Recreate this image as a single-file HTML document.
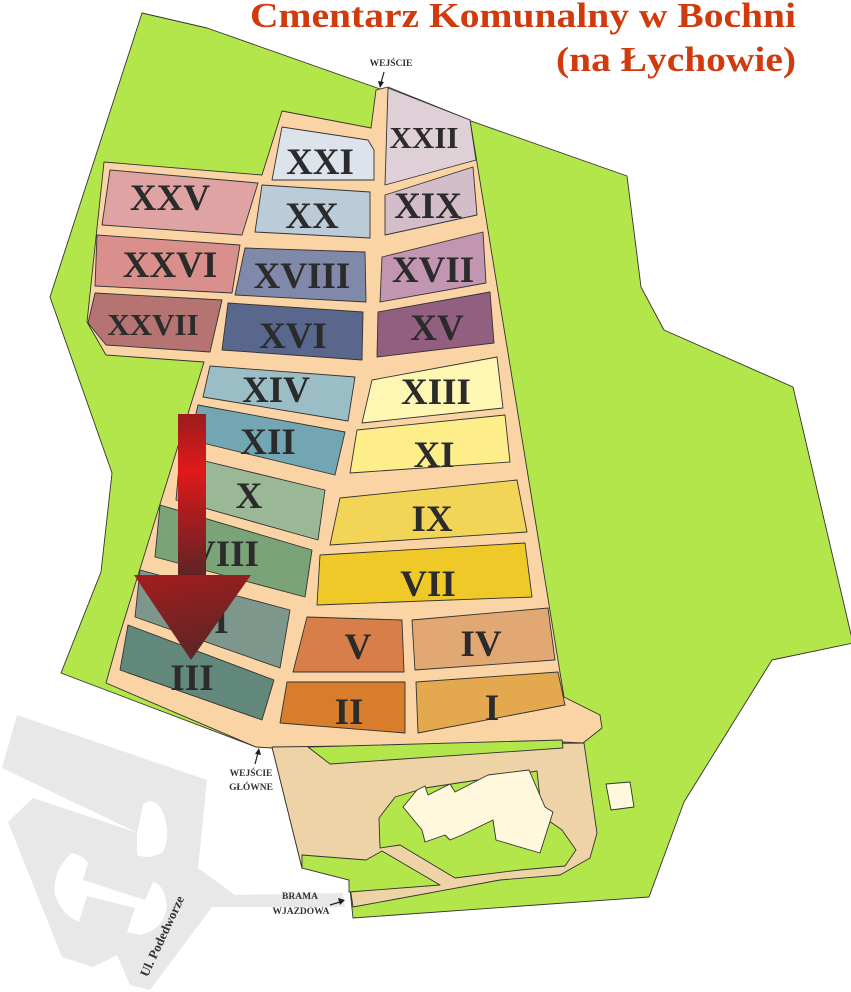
<!DOCTYPE html>
<html><head><meta charset="utf-8"><style>
html,body{margin:0;padding:0;background:#fff;}
svg{display:block;}
.n{font-family:"Liberation Serif",serif;font-weight:bold;fill:#2b2b2b;text-anchor:middle;}
.s{font-family:"Liberation Serif",serif;font-weight:bold;fill:#333;text-anchor:middle;font-size:9.5px;}
.p{stroke:#333;stroke-width:0.9;stroke-linejoin:round;}
</style></head><body>
<svg width="851" height="992" viewBox="0 0 851 992" xmlns="http://www.w3.org/2000/svg">
<defs>
<linearGradient id="ar" x1="0" y1="0" x2="0" y2="1">
<stop offset="0" stop-color="#9a1c1c"/><stop offset="0.35" stop-color="#e0191b"/><stop offset="0.62" stop-color="#a81d1f"/><stop offset="1" stop-color="#5e2424"/>
</linearGradient>
<linearGradient id="ah" x1="0" y1="0" x2="0.3" y2="1">
<stop offset="0" stop-color="#a51c1e"/><stop offset="1" stop-color="#5e2626"/>
</linearGradient>
</defs>
<polygon fill="#e8e8e8" points="17,715 207,780 198,868 235,895 343,893 345,907 212,907 150,990 130,985 117,955 93,967 62,957 8,822 33,798 138,833 2,768"/>
<path fill="#fff" d="M137,833 L143,805 Q152,795 162,810 Q172,833 163,852 Q150,860 137,855 Z"/>
<path fill="#fff" d="M72,853 Q82,855 88,863 L83,880 L145,900 L153,882 Q165,885 167,907 Q163,930 140,935 L127,932 L135,908 L87,896 L79,922 Q62,915 55,895 Q52,870 72,853 Z"/>
<text class="s" transform="translate(166,938) rotate(-65)" style="font-size:13px">Ul. Podedworze</text>
<polygon class="p" fill="#b3e64a" points="142,13 207,28 627,176 641,287 664,330 793,387 853,643 772,660 684,802 649,897 353,918 349,880 302,868 272,747 256,747 61,673 101,572 112,473 50,297"/>
<polygon class="p" fill="#fad4a4" points="104,162 262,175 282,111 371,128 376,90 388,87 470,120 532,500 564,697 600,715 602,728 583,743 562,742 272,748 256,747 106,683 118,640 204,362 106,355 87,322"/>
<polygon class="p" fill="#edd3a6" points="272,747 584,743 597,833 590,858 560,875 500,880 353,907 349,880 302,868"/>
<polygon class="p" fill="#b3e64a" points="308,747 562,740 563,748 330,764"/>
<polygon class="p" fill="#b3e64a" points="379,818 395,797 425,788 537,771 542,816 562,830 576,850 565,866 520,870 455,878 400,845 380,848"/>
<polygon class="p" fill="#b3e64a" points="302,855 366,860 382,851 440,885 349,892 349,880 302,868"/>
<polygon class="p" fill="#fff8dc" points="417,790 425,786 428,795 450,784 455,792 488,775 529,770 545,807 553,812 540,853 496,840 493,820 462,835 450,840 445,835 425,842 422,830 403,807"/>
<polygon class="p" fill="#fff8dc" points="606,784 630,782 634,807 611,810"/>
<polygon class="p" fill="#dfd0d8" points="388,88 470,120 476,160 385,185"/>
<polygon class="p" fill="#dce3ea" points="282,127 368,140 374,150 374,180 272,180"/>
<polygon class="p" fill="#d2bdc9" points="385,195 473,167 477,215 385,235"/>
<polygon class="p" fill="#bccbd8" points="262,185 370,192 370,238 255,232"/>
<polygon class="p" fill="#e0a3a3" points="110,170 258,183 242,235 102,225"/>
<polygon class="p" fill="#d98f8c" points="97,235 240,245 232,293 95,286"/>
<polygon class="p" fill="#8189aa" points="245,248 365,252 366,302 235,295"/>
<polygon class="p" fill="#c296b0" points="382,257 483,232 486,283 380,302"/>
<polygon class="p" fill="#b57472" points="95,293 222,300 210,352 106,345 88,323"/>
<polygon class="p" fill="#5a678c" points="228,303 363,312 362,360 222,350"/>
<polygon class="p" fill="#935f80" points="378,312 490,292 494,343 377,357"/>
<polygon class="p" fill="#9bbec6" points="210,366 355,377 348,421 203,397"/>
<polygon class="p" fill="#fef6b3" points="372,380 497,357 503,408 362,423"/>
<polygon class="p" fill="#72a6b2" points="198,405 345,432 335,475 190,440"/>
<polygon class="p" fill="#fdee8a" points="357,430 505,415 510,462 350,473"/>
<polygon class="p" fill="#9bb896" points="180,455 325,490 318,540 176,500"/>
<polygon class="p" fill="#f2d556" points="340,498 517,480 527,532 330,545"/>
<polygon class="p" fill="#7aa377" points="160,505 312,550 305,597 155,557"/>
<polygon class="p" fill="#efc927" points="320,555 525,543 532,597 317,605"/>
<polygon class="p" fill="#7e978d" points="140,570 290,610 280,668 135,617"/>
<polygon class="p" fill="#62877b" points="128,625 274,680 262,720 120,670"/>
<polygon class="p" fill="#d87f49" points="307,617 402,620 404,672 293,672"/>
<polygon class="p" fill="#e2a874" points="412,620 548,608 555,660 415,670"/>
<polygon class="p" fill="#d77d2b" points="287,682 405,682 405,733 280,723"/>
<polygon class="p" fill="#e4a84e" points="416,682 558,672 565,705 418,733"/>
<g class="n" font-size="37">
<text x="424" y="148" font-size="31">XXII</text>
<text x="320" y="174">XXI</text>
<text x="428" y="218">XIX</text>
<text x="312" y="228">XX</text>
<text x="170" y="210">XXV</text>
<text x="170" y="277">XXVI</text>
<text x="302" y="288">XVIII</text>
<text x="433" y="282">XVII</text>
<text x="153" y="335" font-size="31">XXVII</text>
<text x="293" y="348">XVI</text>
<text x="437" y="340">XV</text>
<text x="276" y="402">XIV</text>
<text x="436" y="404">XIII</text>
<text x="268" y="454">XII</text>
<text x="434" y="467">XI</text>
<text x="249" y="508">X</text>
<text x="432" y="531">IX</text>
<text x="224" y="566">VIII</text>
<text x="428" y="596">VII</text>
<text x="208" y="633">VI</text>
<text x="192" y="690">III</text>
<text x="358" y="659">V</text>
<text x="481" y="656">IV</text>
<text x="349" y="724">II</text>
<text x="492" y="720">I</text>
</g>
<rect x="178" y="414" width="28" height="162" fill="url(#ar)"/>
<polygon points="134,575 251,575 191,660" fill="url(#ah)"/>
<text class="s" x="391" y="66">WEJŚCIE</text>
<line x1="384" y1="72" x2="381" y2="83" stroke="#222" stroke-width="1.2"/><polygon points="378,81 384,82 380,88" fill="#222"/>
<text class="s" x="251" y="776">WEJŚCIE</text>
<text class="s" x="251" y="790">GŁÓWNE</text>
<line x1="255" y1="764" x2="258" y2="753" stroke="#222" stroke-width="1.2"/><polygon points="255,754 261,755 259,748" fill="#222"/>
<text class="s" x="300" y="899">BRAMA</text>
<text class="s" x="301" y="914">WJAZDOWA</text>
<line x1="330" y1="905" x2="340" y2="902" stroke="#222" stroke-width="1.2"/><polygon points="338,898 340,905 345,900" fill="#222"/>
<g font-family="Liberation Serif, serif" font-weight="bold" fill="#d13a0c" text-anchor="end">
<text x="796" y="27" font-size="35" textLength="546" lengthAdjust="spacingAndGlyphs">Cmentarz Komunalny w Bochni</text>
<text x="796" y="71" font-size="35" textLength="240" lengthAdjust="spacingAndGlyphs">(na Łychowie)</text>
</g>
</svg>
</body></html>
